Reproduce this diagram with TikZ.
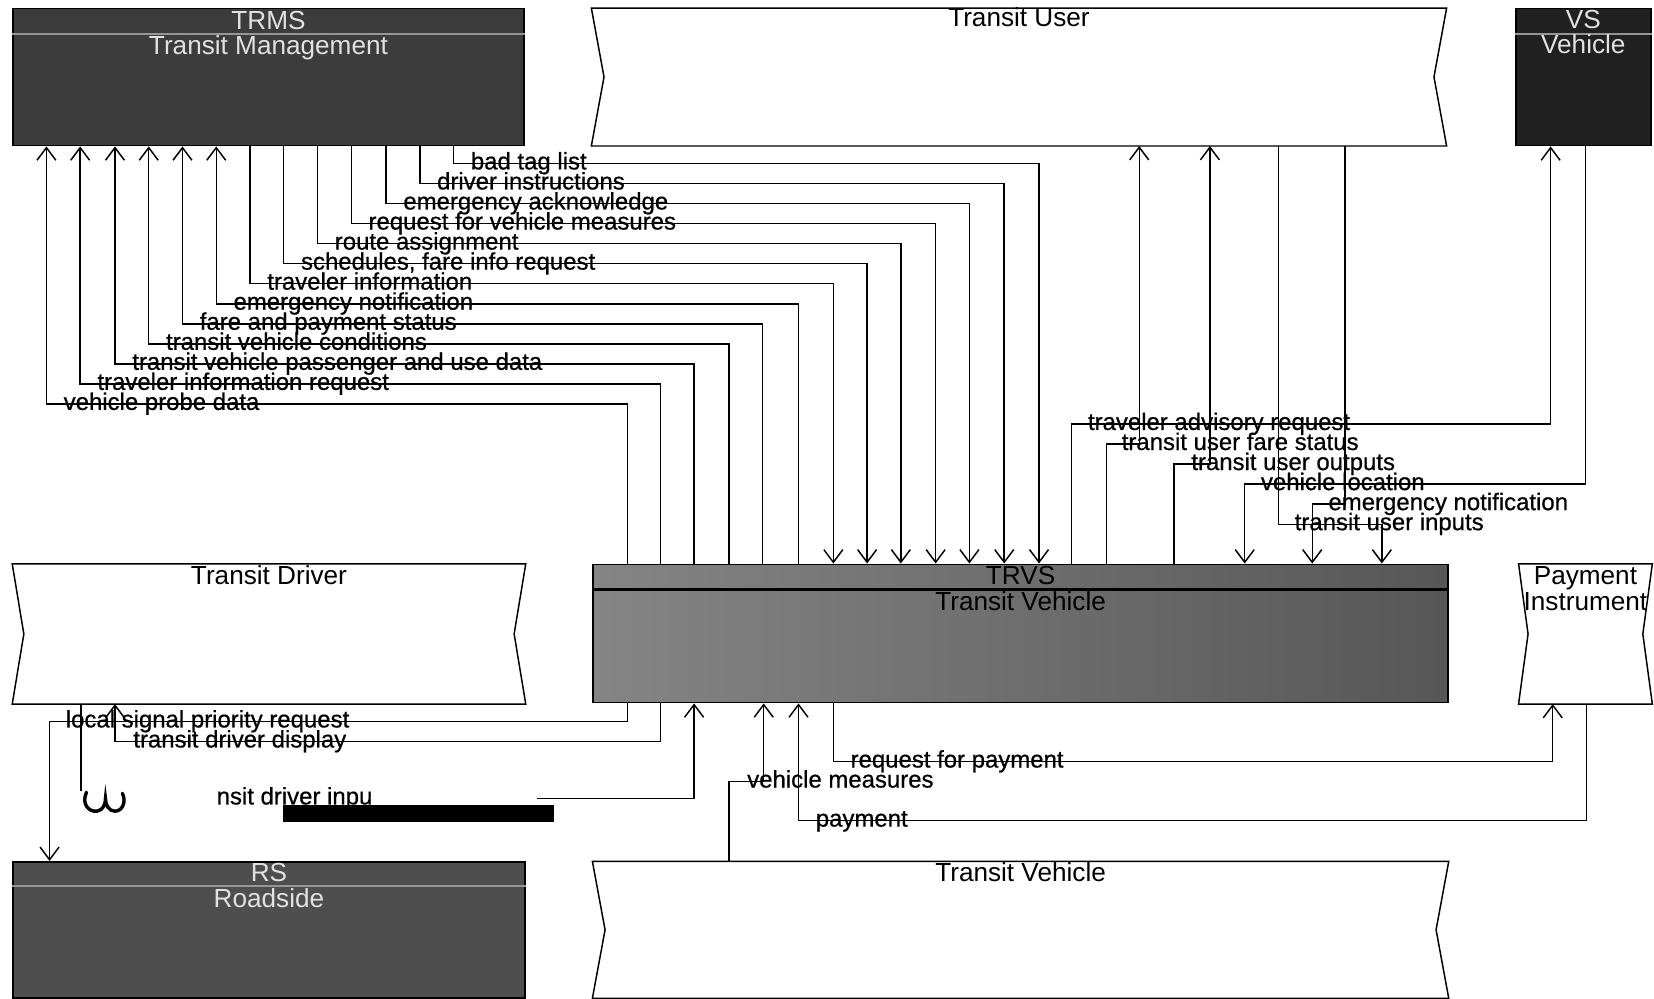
\documentclass[tikz,border=0pt]{standalone}
\usepackage{fontspec}
\setmainfont{Liberation Sans}
\newfontfamily\lblfamily[FakeBold=0.6]{Liberation Sans}
\usetikzlibrary{arrows.meta,calc}
\definecolor{trmsc}{RGB}{60,60,60}
\definecolor{vsc}{RGB}{32,32,32}
\definecolor{rsc}{RGB}{78,78,78}
\definecolor{lighttxt}{RGB}{225,225,225}
\definecolor{sepc}{RGB}{150,150,150}
\newcommand\concaveoutline[2]{\draw[edge,fill=white] (#1.north west) -- (#1.north east) -- ($(#1.east)+(-#2,0)$) -- (#1.south east) -- (#1.south west) -- ($(#1.west)+(#2,0)$) -- cycle;}
\begin{document}
\begin{tikzpicture}[x=0.5pt,y=-0.5pt,
  edge/.style={draw=black,line width=0.7pt},
  dbox/.style={draw=black,line width=0.8pt,inner sep=0pt},
  cbox/.style={inner sep=0pt},
  ttl/.style={font=\fontsize{12.4pt}{14pt}\selectfont,anchor=base,inner sep=0pt},
  lbl/.style={font=\lblfamily\fontsize{11.35pt}{13pt}\selectfont,anchor=west,inner sep=0pt,text height=7.4pt,text depth=1.8pt},
  flow/.style={draw=black,line width=0.7pt,line join=miter,-{Straight Barb[length=6pt,width=9pt,line width=0.7pt]}},
  plain/.style={draw=black,line width=0.7pt,line join=miter},
  sepl/.style={draw=sepc,line width=0.8pt}
]
\useasboundingbox (0,0) rectangle (1568,947);
\fill[white] (0,0) rectangle (1568,947);

% ---------- boxes ----------
\node[dbox,fill=trmsc,minimum width=242.5pt,minimum height=65pt] (trms) at (254.5,73) {};
\draw[sepl] (trms.west |- 0,32) -- (trms.east |- 0,32);
\node[ttl,text=lighttxt] (trmsA) at (254.5,28) {TRMS};
\node[ttl,text=lighttxt] (trmsB) at (254.5,52) {Transit Management};

\node[cbox,minimum width=405pt,minimum height=65pt] (tu) at (966,73) {};
\concaveoutline{tu}{12}
\node[ttl] (tuA) at (966,25) {Transit User};

\node[dbox,fill=vsc,minimum width=64pt,minimum height=65pt] (vs) at (1501,73) {};
\draw[sepl] (vs.west |- 0,32) -- (vs.east |- 0,32);
\node[ttl,text=lighttxt] (vsA) at (1501,27) {VS};
\node[ttl,text=lighttxt] (vsB) at (1501,51) {Vehicle};

\node[cbox,minimum width=243pt,minimum height=66pt] (td) at (255,601) {};
\concaveoutline{td}{11}
\node[ttl] (tdA) at (255,554) {Transit Driver};

\node[dbox,left color=black!48,middle color=black!38,right color=black!66,minimum width=405.5pt,minimum height=65.5pt] (trvs) at (967.5,600.5) {};
\draw[draw=black,line width=1.2pt] (trvs.west |- 0,559) -- (trvs.east |- 0,559);
\node[ttl] (trvsA) at (967.5,554) {TRVS};
\node[ttl] (trvsB) at (967.5,579) {Transit Vehicle};

\node[cbox,minimum width=63pt,minimum height=66pt] (payinst) at (1503,601) {};
\concaveoutline{payinst}{9}
\node[ttl] (piA) at (1503,554) {Payment};
\node[ttl] (piB) at (1503,579) {Instrument};

\node[dbox,fill=rsc,minimum width=243pt,minimum height=64.5pt] (rs) at (255,881.5) {};
\draw[sepl] (rs.west |- 0,840) -- (rs.east |- 0,840);
\node[ttl,text=lighttxt] (rsA) at (255,836) {RS};
\node[ttl,text=lighttxt] (rsB) at (255,860) {Roadside};

\node[cbox,minimum width=405.5pt,minimum height=64.5pt] (tvb) at (967.5,881.5) {};
\concaveoutline{tvb}{12}
\node[ttl] (tvbA) at (967.5,836) {Transit Vehicle};

% ---------- TRVS -> TRMS ----------
\foreach \lab/\xa/\xb/\yy [count=\i] in {vehicle probe data/44/595/383,
  traveler information request/76/626/364,
  transit vehicle passenger and use data/109/658/345,
  transit vehicle conditions/141/691/326,
  fare and payment status/173/723/307,
  emergency notification/205/757/288}{
  \draw[flow] (trvs.north -| \xb,0) |- (\xa,\yy) -- (trms.south -| \xa,0);
  \node[lbl] (up\i) at (\xa+16,\yy) {\lab};
}
% ---------- TRMS -> TRVS ----------
\foreach \lab/\xa/\xb/\yy [count=\i] in {traveler information/237/790/269,
  {schedules, fare info request}/269/822/250,
  route assignment/301/854/231,
  request for vehicle measures/333/887/212,
  emergency acknowledge/366/919/193,
  driver instructions/398/952/174,
  bad tag list/430/985/155}{
  \draw[flow] (trms.south -| \xa,0) |- (\xb,\yy) -- (trvs.north -| \xb,0);
  \node[lbl] (dn\i) at (\xa+16,\yy) {\lab};
}

% ---------- right group ----------
\draw[flow] (trvs.north -| 1016,0) |- (1470,402) -- (vs.south -| 1470,0);
\node[lbl] (r1) at (1031,402) {traveler advisory request};
\draw[flow] (trvs.north -| 1049,0) |- (1080,421) -- (tu.south -| 1080,0);
\node[lbl] (r2) at (1063,421) {transit user fare status};
\draw[flow] (trvs.north -| 1113,0) |- (1147,440) -- (tu.south -| 1147,0);
\node[lbl] (r3) at (1129,440) {transit user outputs};
\draw[flow] (vs.south -| 1503,0) |- (1180,459) -- (trvs.north -| 1180,0);
\node[lbl] (r4) at (1195,459) {vehicle location};
\draw[flow] (tu.south -| 1275,0) |- (1244,478) -- (trvs.north -| 1244,0);
\node[lbl] (r5) at (1259,478) {emergency notification};
\draw[flow] (tu.south -| 1212,0) |- (1310,497) -- (trvs.north -| 1310,0);
\node[lbl] (r6) at (1227,497) {transit user inputs};

% ---------- bottom group ----------
\draw[flow] (trvs.south -| 595,0) |- (47,684) -- (rs.north -| 47,0);
\node[lbl] (b1) at (62,684) {local signal priority request};
\draw[flow] (trvs.south -| 626,0) |- (109,703) -- (td.south -| 109,0);
\node[lbl] (b2) at (126,703) {transit driver display};
\coordinate (dinA) at (77,750);
\coordinate (dinB) at (509,757);
\draw[plain] (td.south -| 77,0) -- (dinA);
\draw[flow] (dinB) -| (trvs.south -| 658,0);
\node[lbl] (b3) at (205,757) {nsit driver inpu};
\draw[line width=1.6pt,line cap=round] (82,751) .. controls (77,762) and (84,770) .. (92,769) .. controls (98,768) and (100,762) .. (100,757) .. controls (100,763) and (103,769) .. (109,769) .. controls (116,769) and (120,760) .. (116,752);
\fill[black] (268,763) rectangle (525,779);
\draw[flow] (tvb.north -| 691,0) |- (724,741) -- (trvs.south -| 724,0);
\node[lbl] (b4) at (708,741) {vehicle measures};
\draw[flow] (trvs.south -| 790,0) |- (1472,722) -- (payinst.south -| 1472,0);
\node[lbl] (b5) at (806,722) {request for payment};
\draw[flow] (payinst.south -| 1504,0) |- (757,778) -- (trvs.south -| 757,0);
\node[lbl] (b6) at (773,778) {payment};
\end{tikzpicture}
\end{document}
